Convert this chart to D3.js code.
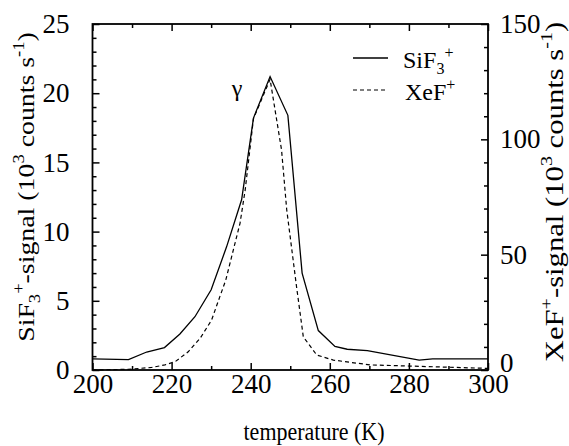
<!DOCTYPE html>
<html><head><meta charset="utf-8">
<script src="https://cdn.jsdelivr.net/npm/d3@7"></script>
<style>
html,body{margin:0;padding:0;background:#fff;}
svg text{font-family:"Liberation Serif","Times New Roman",serif !important;fill:#000;}
</style></head>
<body>
<svg id="c" width="569" height="446" font-family="Liberation Serif"></svg>
<script>
// ---- data ----
const siTemp = [200, 209.1, 213.7, 218.2, 222.1, 225.9, 230.0, 233.9, 237.7, 240.7, 244.9, 249.4, 253.0, 257.1, 261.3, 264.4, 269.5, 282.6, 286.0, 300];
const siSignal = [0.8, 0.75, 1.3, 1.62, 2.6, 3.85, 5.8, 8.9, 12.3, 18.2, 21.2, 18.4, 7.0, 2.85, 1.7, 1.5, 1.4, 0.72, 0.8, 0.8];
const xeTemp = [200, 209, 215, 218.3, 220.9, 224.2, 227.2, 230.1, 232.2, 233.7, 237.3, 238.6, 240.7, 244.9, 247.8, 249.1, 251.6, 253.3, 256.7, 260.9, 270.2, 280.3, 300];
const xeSignal = [0, 0.3, 1.1, 2.2, 3.6, 7.9, 13.7, 21.6, 31.8, 39, 63.6, 78, 109, 126, 95.4, 69.6, 36, 14.4, 6.5, 4.3, 2.2, 1.7, 0.7];
const xTicks = [200, 220, 240, 260, 280, 300];
const xMinor = [210, 230, 250, 270, 290];
const yLeftTicks = [0, 5, 10, 15, 20, 25];
const yRightTicks = [0, 50, 100, 150];

const svg = d3.select("#c");
const L = 92.5, R = 488, T = 24, B = 370;
const x = d3.scaleLinear().domain([200, 300]).range([L, R]);
const yL = d3.scaleLinear().domain([0, 25]).range([B, T]);
const yR = d3.scaleLinear().domain([0, 150]).range([B, T]);

function style(g){
  g.attr("font-family", "Liberation Serif").attr("font-size", 27);
  g.select(".domain").remove();
  g.selectAll("line").attr("stroke","#000").attr("stroke-width",1.5);
  g.selectAll("text").attr("font-family","Liberation Serif").attr("font-size",27);
}

const yLMinor = d3.range(0, 26).filter(v => v % 5 !== 0);
const yRMinor = d3.range(0, 151, 10).filter(v => v % 50 !== 0);

// bottom
svg.append("g").attr("transform",`translate(0,${B})`).call(d3.axisBottom(x).tickValues(xTicks).tickSize(-7).tickPadding(4).tickFormat(d3.format("d"))).call(style);
svg.append("g").attr("transform",`translate(0,${B})`).call(d3.axisBottom(x).tickValues(xMinor).tickSize(-4).tickFormat("")).call(style);
// top
svg.append("g").attr("transform",`translate(0,${T})`).call(d3.axisTop(x).tickValues(xTicks).tickSize(-7).tickFormat("")).call(style);
svg.append("g").attr("transform",`translate(0,${T})`).call(d3.axisTop(x).tickValues(xMinor).tickSize(-4).tickFormat("")).call(style);
// left
svg.append("g").attr("transform",`translate(${L},0)`).call(d3.axisLeft(yL).tickValues(yLeftTicks).tickSize(-7).tickPadding(23)).call(style);
svg.append("g").attr("transform",`translate(${L},0)`).call(d3.axisLeft(yL).tickValues(yLMinor).tickSize(-4).tickFormat("")).call(style);
// right
const rightG = svg.append("g").attr("transform",`translate(${R},0)`).call(d3.axisRight(yR).tickValues(yRightTicks).tickSize(-7).tickPadding(12)).call(style);
svg.append("g").attr("transform",`translate(${R},0)`).call(d3.axisRight(yR).tickValues(yRMinor).tickSize(-4).tickFormat("")).call(style);
rightG.selectAll(".tick").filter(d => d === 0).select("text").attr("dy","0.05em");

// frame
svg.append("rect").attr("x",L).attr("y",T).attr("width",R-L).attr("height",B-T)
  .attr("fill","none").attr("stroke","#000").attr("stroke-width",1.8);

// lines
const lineL = d3.line().x(d => x(d[0])).y(d => yL(d[1]));
const lineR = d3.line().x(d => x(d[0])).y(d => yR(d[1]));
svg.append("path").datum(xeTemp.map((t,i)=>[t,xeSignal[i]])).attr("d",lineR)
  .attr("fill","none").attr("stroke","#000").attr("stroke-width",1.2).attr("stroke-dasharray","4,3");
svg.append("path").datum(siTemp.map((t,i)=>[t,siSignal[i]])).attr("d",lineL)
  .attr("fill","none").attr("stroke","#000").attr("stroke-width",1.3);

// legend
const lg = svg.append("g");
lg.append("line").attr("x1",353).attr("x2",388).attr("y1",58).attr("y2",58).attr("stroke","#000").attr("stroke-width",1.3);
lg.append("line").attr("x1",353).attr("x2",388).attr("y1",90).attr("y2",90).attr("stroke","#000").attr("stroke-width",1.2).attr("stroke-dasharray","4,3");
const t1 = lg.append("text").attr("x",403).attr("y",68).attr("font-size",24);
t1.append("tspan").text("SiF");
t1.append("tspan").attr("font-size",16).attr("dy",6).text("3");
t1.append("tspan").attr("font-size",16).attr("dy",-16).text("+");
const t2 = lg.append("text").attr("x",405).attr("y",100).attr("font-size",24);
t2.append("tspan").text("XeF");
t2.append("tspan").attr("font-size",16).attr("dy",-10).text("+");

// gamma label
svg.append("text").attr("x",237).attr("y",96).attr("text-anchor","middle").attr("font-size",24).text("γ");

// x title
svg.append("text").attr("transform","translate(314,440) scale(1,1.15)").attr("text-anchor","middle").attr("font-size",22).text("temperature (K)");

// left title
const lt = svg.append("text").attr("transform","translate(34,187) rotate(-90) scale(1.16,1)").attr("text-anchor","middle").attr("font-size",24);
lt.append("tspan").text("SiF");
lt.append("tspan").attr("font-size",16).attr("dy",6).text("3");
lt.append("tspan").attr("font-size",16).attr("dy",-16).text("+");
lt.append("tspan").attr("dy",10).text("-signal (10");
lt.append("tspan").attr("font-size",16).attr("dy",-10).text("3");
lt.append("tspan").attr("dy",10).text(" counts s");
lt.append("tspan").attr("font-size",16).attr("dy",-10).text("-1");
lt.append("tspan").attr("dy",10).text(")");

// right title
const rt = svg.append("text").attr("transform","translate(563,192) rotate(-90) scale(1.18,1)").attr("text-anchor","middle").attr("font-size",26);
rt.append("tspan").text("XeF");
rt.append("tspan").attr("font-size",17).attr("dy",-11).text("+");
rt.append("tspan").attr("dy",11).text("-signal (10");
rt.append("tspan").attr("font-size",17).attr("dy",-11).text("3");
rt.append("tspan").attr("dy",11).text(" counts s");
rt.append("tspan").attr("font-size",17).attr("dy",-11).text("-1");
rt.append("tspan").attr("dy",11).text(")");
</script>
</body></html>
